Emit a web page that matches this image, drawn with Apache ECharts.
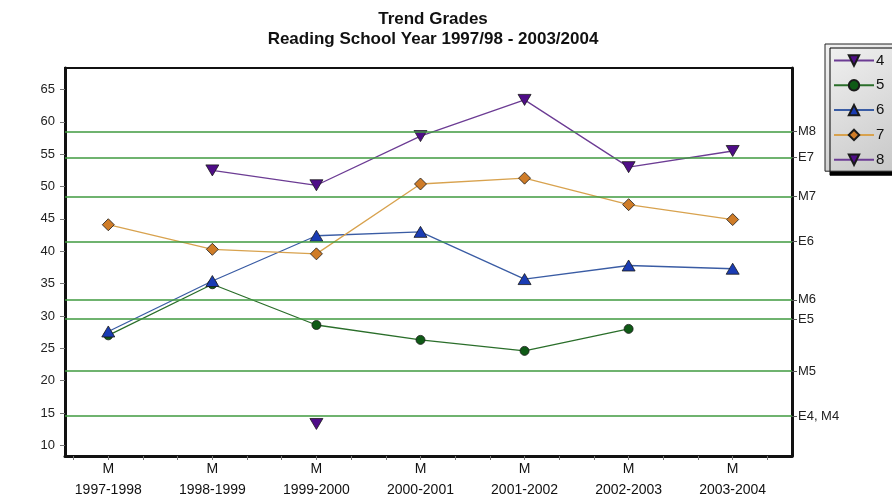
<!DOCTYPE html>
<html>
<head>
<meta charset="utf-8">
<title>Trend Grades</title>
<script src="https://cdn.jsdelivr.net/npm/echarts@6/dist/echarts.min.js"></script>
<style>
  html, body { margin: 0; padding: 0; background: #ffffff; }
  #chart { width: 892px; height: 501px; }
</style>
</head>
<body>
<div id="chart"></div>
<script>
// School years on the horizontal axis (each tick label is "M" over the year)
const categories = ['1997-1998', '1998-1999', '1999-2000', '2000-2001', '2001-2002', '2002-2003', '2003-2004'];
const periodMark = 'M';

// Reading scores per grade (null = no result that year)
const grade4 = [null, null, 13.3, null, null, null, null];
const grade5 = [27.0, 34.9, 28.6, 26.3, 24.6, 28.0, null];
const grade6 = [27.6, 35.4, 42.4, 43.0, 35.7, 37.8, 37.3];
const grade7 = [44.1, 40.3, 39.6, 50.4, 51.3, 47.2, 44.9];
const grade8 = [null, 52.5, 50.2, 57.8, 63.4, 53.0, 55.5];

// Left axis tick labels
const yTicks = [10, 15, 20, 25, 30, 35, 40, 45, 50, 55, 60, 65];

// Benchmark levels shown as green lines with labels on the right axis
const refLevels = [58.5, 54.5, 48.5, 41.5, 32.5, 29.5, 21.5, 14.5];
const refNames = ['M8', 'E7', 'M7', 'E6', 'M6', 'E5', 'M5', 'E4, M4'];

const FONT = "'Liberation Sans', Arial, sans-serif";

function points(values) {
  const out = [];
  values.forEach((v, i) => { if (v !== null) out.push([i, v]); });
  return out;
}

// minor ticks every third of a school year
const xTickValues = [];
for (let k = -1; k <= 19; k++) xTickValues.push(k / 3);
const xLabelValues = categories.map((c, i) => i);

function gradeSeries(name, values, lineColor, markColor, symbol, rotate, size) {
  return {
    name: name,
    type: 'line',
    data: points(values),
    symbol: symbol,
    symbolRotate: rotate,
    symbolSize: size,
    showSymbol: true,
    animation: false,
    lineStyle: { color: lineColor, width: 1.3 },
    itemStyle: { color: markColor, borderColor: '#1a1a1a', borderWidth: 0.8 },
    emphasis: { disabled: true }
  };
}

const chart = echarts.init(document.getElementById('chart'), null, { renderer: 'canvas' });

const refSeries = {
  name: 'benchmarks',
  type: 'line',
  data: [],
  silent: true,
  animation: false,
  markLine: {
    silent: true,
    symbol: 'none',
    animation: false,
    label: { show: false },
    lineStyle: { color: '#3f9a3f', width: 1.6, type: 'solid' },
    data: refLevels.map(v => ({ yAxis: v }))
  }
};

chart.setOption({
  backgroundColor: '#ffffff',
  animation: false,
  title: {
    text: 'Trend Grades\nReading School Year 1997/98 - 2003/2004',
    left: 428,
    top: 4,
    textAlign: 'center',
    textStyle: {
      fontFamily: FONT,
      fontSize: 17,
      fontWeight: 'bold',
      color: '#111',
      lineHeight: 20
    }
  },
  legend: {
    data: ['4', '5', '6', '7', '8'],
    orient: 'vertical',
    left: 825,
    top: 44,
    itemWidth: 40,
    itemHeight: 13,
    itemGap: 9.8,
    padding: [9, 20, 4, 8],
    selectedMode: false,
    textStyle: { fontFamily: FONT, fontSize: 15, color: '#111', padding: [0, 0, 0, -3] },
    backgroundColor: new echarts.graphic.LinearGradient(0, 0, 1, 1, [
      { offset: 0, color: '#f2f2f2' },
      { offset: 1, color: '#c6c6c6' }
    ]),
    borderColor: '#222',
    borderWidth: 1,
    shadowColor: '#000',
    shadowBlur: 0,
    shadowOffsetX: 5,
    shadowOffsetY: 4
  },
  grid: {
    left: 65,
    right: 100,
    top: 68,
    bottom: 41,
    show: true,
    borderColor: '#111',
    borderWidth: 2,
    backgroundColor: '#ffffff'
  },
  xAxis: {
    type: 'value',
    min: -0.416,
    max: 6.57,
    splitLine: { show: false },
    axisLine: { show: true, onZero: false, lineStyle: { color: '#111', width: 3 } },
    axisTick: { show: true, customValues: xTickValues, length: 4, lineStyle: { color: '#777', width: 1 } },
    axisLabel: {
      customValues: xLabelValues,
      formatter: v => periodMark + '\n' + categories[Math.round(v)],
      fontFamily: FONT,
      fontSize: 14,
      color: '#111',
      lineHeight: 21,
      margin: 3
    }
  },
  yAxis: [
    {
      type: 'value',
      position: 'left',
      min: 8.35,
      max: 68.33,
      splitLine: { show: false },
      axisLine: { show: true, onZero: false, lineStyle: { color: '#111', width: 3 } },
      axisTick: { show: true, customValues: yTicks, length: 5, lineStyle: { color: '#777', width: 1 } },
      axisLabel: {
        customValues: yTicks,
        fontFamily: FONT,
        fontSize: 13,
        color: '#222',
        margin: 10
      }
    },
    {
      type: 'value',
      position: 'right',
      min: 8.35,
      max: 68.33,
      splitLine: { show: false },
      axisLine: { show: true, onZero: false, lineStyle: { color: '#111', width: 3 } },
      axisTick: { show: true, customValues: refLevels, length: 5, lineStyle: { color: '#555', width: 1 } },
      axisLabel: {
        customValues: refLevels,
        formatter: v => refNames[refLevels.indexOf(v)],
        fontFamily: FONT,
        fontSize: 13,
        color: '#222',
        margin: 6
      }
    }
  ],
  series: [
    refSeries,
    gradeSeries('4', grade4, '#6c3c94', '#4f0d88', 'triangle', 180, [13, 11]),
    gradeSeries('5', grade5, '#2a6e2a', '#0f5a16', 'circle', 0, 9),
    gradeSeries('6', grade6, '#3a5ca4', '#1a3cb4', 'triangle', 0, [13, 11]),
    gradeSeries('7', grade7, '#d8a24e', '#cf7c28', 'diamond', 0, [12, 12]),
    gradeSeries('8', grade8, '#6c3c94', '#4f0d88', 'triangle', 180, [13, 11])
  ]
});
</script>
</body>
</html>
